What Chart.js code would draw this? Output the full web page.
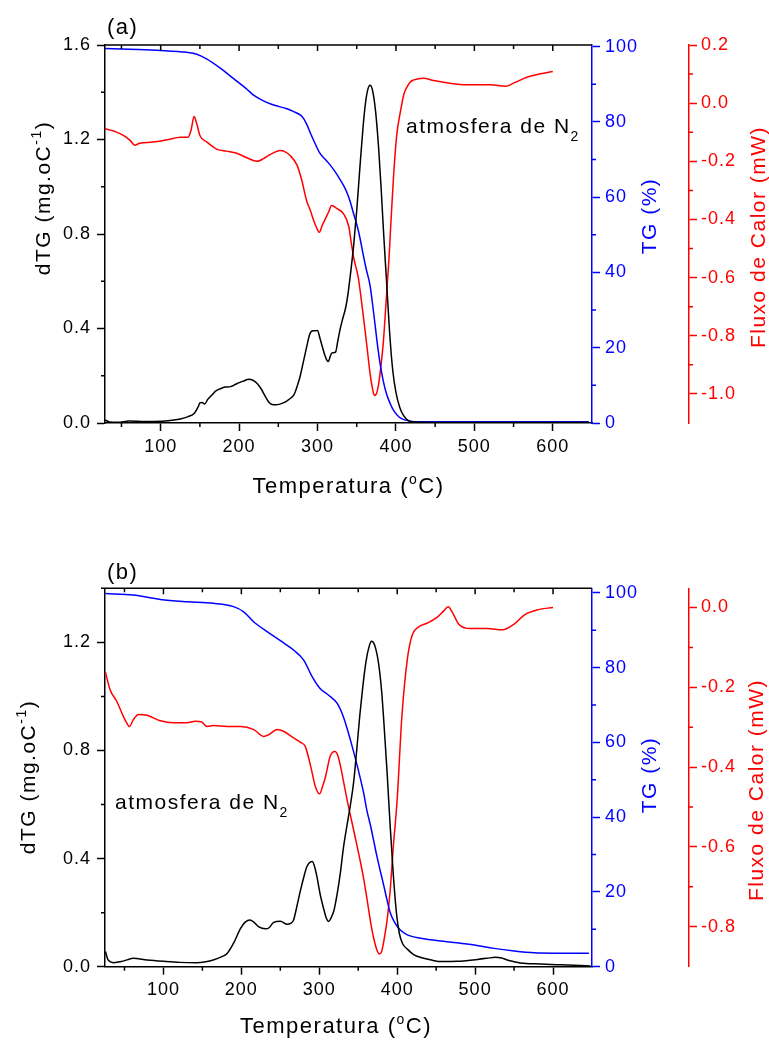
<!DOCTYPE html>
<html>
<head>
<meta charset="utf-8">
<script src="https://cdn.jsdelivr.net/npm/chart.js@4.4.0/dist/chart.umd.min.js"></script>
<style>
  html, body { margin: 0; padding: 0; background: #fff; }
  #wrap { position: relative; width: 769px; height: 1041px; }
  canvas { position: absolute; left: 0; }
  #chartA { top: 0; }
  #chartB { top: 520px; }
</style>
</head>
<body>
<div id="wrap">
  <canvas id="chartA" width="769" height="520"></canvas>
  <canvas id="chartB" width="769" height="521"></canvas>
</div>
<script>
// ---- panel (a) ----
const tempA_dtg = [29, 35, 45, 60, 80, 100, 115, 125, 135, 143, 148, 150, 153, 156, 160, 165, 170, 176, 182, 189, 195, 201, 206, 212, 217, 223, 228, 233, 238, 242, 247, 252, 257, 262, 266, 270, 274, 278, 282, 286, 290, 294, 297, 300, 303, 306, 309, 312, 314, 316, 318, 320, 323, 326, 329, 332, 336, 339, 342, 346, 350, 354, 358, 361, 364, 367, 370, 374, 378, 381, 384, 388, 392, 396, 400, 405, 410, 415, 420, 430, 450, 500, 550, 600, 646];
const dtgA = [0.013, 0.004, 0.003, 0.008, 0.006, 0.007, 0.012, 0.017, 0.027, 0.041, 0.07, 0.085, 0.087, 0.08, 0.1, 0.117, 0.135, 0.145, 0.152, 0.154, 0.163, 0.172, 0.178, 0.185, 0.182, 0.167, 0.145, 0.115, 0.088, 0.078, 0.077, 0.08, 0.086, 0.096, 0.106, 0.12, 0.155, 0.2, 0.26, 0.32, 0.375, 0.39, 0.39, 0.392, 0.36, 0.325, 0.29, 0.265, 0.26, 0.28, 0.295, 0.297, 0.3, 0.35, 0.4, 0.44, 0.49, 0.55, 0.63, 0.75, 0.9, 1.08, 1.25, 1.35, 1.41, 1.43, 1.41, 1.32, 1.16, 1.0, 0.82, 0.6, 0.38, 0.22, 0.13, 0.065, 0.03, 0.012, 0.005, 0.003, 0.002, 0.002, 0.002, 0.002, 0.002];

const tempA_tg = [29, 60, 100, 133, 146, 159, 176, 193, 210, 218, 231, 244, 261, 269, 280, 286, 291, 297, 303, 310, 316, 323, 329, 334, 338, 342, 346, 350, 354, 358, 362, 367, 372, 376, 380, 384, 388, 393, 398, 404, 410, 418, 430, 500, 646];
const tgA = [99.5, 99.3, 99.0, 98.5, 98.0, 96.7, 94.3, 91.5, 88.7, 87.2, 85.6, 84.5, 83.5, 82.8, 81.5, 79.5, 77.0, 74.2, 71.7, 70.0, 68.6, 66.6, 64.6, 62.8, 61.0, 58.6, 55.6, 52.8, 49.3, 45.0, 41.0, 36.5, 28.5, 21.5, 15.5, 11.0, 7.7, 5.0, 3.0, 1.6, 0.9, 0.5, 0.35, 0.3, 0.3];

const tempA_hf = [29, 40, 48, 55, 61, 67, 73, 90, 108, 125, 135, 139, 142.5, 146, 150, 159, 172, 184, 197, 210, 223, 231, 240, 248, 252, 257, 265, 274, 280, 286, 291, 295, 299, 302.5, 306, 310, 314, 318, 325, 333, 340, 343, 346, 352, 356, 361, 364, 367, 370, 372.5, 375, 378, 381, 384, 387, 391, 394, 397, 401, 406, 410, 414, 418, 423, 435, 448, 465, 491, 520, 540, 550, 567, 584, 600];
const hfA = [-0.088, -0.096, -0.105, -0.115, -0.128, -0.145, -0.138, -0.134, -0.126, -0.117, -0.117, -0.09, -0.046, -0.071, -0.111, -0.134, -0.159, -0.165, -0.172, -0.188, -0.2, -0.191, -0.176, -0.166, -0.163, -0.165, -0.18, -0.214, -0.266, -0.335, -0.37, -0.403, -0.43, -0.444, -0.42, -0.398, -0.375, -0.352, -0.363, -0.38, -0.426, -0.48, -0.53, -0.6, -0.68, -0.79, -0.86, -0.93, -0.98, -1.005, -1.0, -0.965, -0.9, -0.82, -0.7, -0.54, -0.39, -0.25, -0.11, -0.025, 0.03, 0.055, 0.072, 0.08, 0.086, 0.078, 0.07, 0.063, 0.063, 0.058, 0.069, 0.089, 0.101, 0.109];

// ---- panel (b) ----
const tempB_dtg = [25.6, 29, 36, 46, 55, 61, 79, 100, 121, 143, 164, 175, 182, 190, 199, 205, 211, 216, 222, 231, 236, 241, 250, 259, 263, 267, 271, 276, 280, 284, 291, 294, 297, 301, 306, 309, 312, 315, 319, 323, 327, 331, 336, 340, 344, 348, 352, 356, 360, 364, 367, 371, 376, 380, 383, 387, 391, 395, 399, 403, 407, 413, 421, 434, 445, 456, 477, 503, 515, 526, 534, 541, 558, 584, 610, 648];
const dtgB = [0.056, 0.025, 0.015, 0.019, 0.027, 0.031, 0.025, 0.02, 0.016, 0.015, 0.025, 0.037, 0.05, 0.087, 0.142, 0.165, 0.173, 0.165, 0.148, 0.14, 0.145, 0.163, 0.168, 0.157, 0.16, 0.173, 0.22, 0.284, 0.33, 0.37, 0.389, 0.37, 0.333, 0.27, 0.21, 0.18, 0.167, 0.18, 0.21, 0.27, 0.346, 0.44, 0.53, 0.6, 0.68, 0.8, 0.93, 1.04, 1.13, 1.185, 1.204, 1.19, 1.124, 1.02, 0.9, 0.72, 0.52, 0.34, 0.2, 0.12, 0.085, 0.065, 0.045, 0.031, 0.024, 0.019, 0.02, 0.027, 0.031, 0.035, 0.032, 0.025, 0.014, 0.01, 0.007, 0.003];

const tempB_tg = [25.6, 61, 96, 130, 164, 190, 203, 216, 233, 250, 267, 280, 291, 301, 312, 323, 331, 340, 349, 357, 361, 366, 370, 374, 379, 383, 387, 391, 397, 404, 413, 430, 464, 499, 524, 550, 576, 601, 646];
const tgB = [99.8, 99.4, 98.2, 97.6, 97.2, 96.3, 94.9, 92.2, 89.6, 87.2, 84.7, 82.0, 77.5, 74.4, 72.6, 70.4, 66.8, 60.6, 53.5, 46.4, 41.9, 37.5, 33.5, 29.5, 25.0, 21.5, 17.8, 14.5, 11.7, 9.8, 8.5, 7.6, 6.7, 5.8, 4.9, 4.2, 3.7, 3.6, 3.6];

const tempB_hf = [25.6, 31.5, 40, 48.6, 53, 56.3, 61.4, 68, 79, 96, 113, 130, 141, 149, 156, 164, 182, 199, 216, 228.5, 235, 246, 254, 267, 276, 282, 289, 295, 300.5, 304, 308, 314, 320, 324, 328, 332, 336, 341, 346, 352, 357, 362, 366, 370, 374, 377, 380, 383, 387, 391, 395, 400, 406, 413, 419, 428, 439, 451, 460, 465.5, 471, 479, 494, 516, 535, 550, 563, 580, 600];
const hfB = [-0.162, -0.206, -0.235, -0.273, -0.29, -0.298, -0.281, -0.268, -0.27, -0.284, -0.289, -0.289, -0.285, -0.287, -0.298, -0.296, -0.298, -0.298, -0.306, -0.323, -0.319, -0.306, -0.31, -0.327, -0.338, -0.348, -0.398, -0.449, -0.467, -0.45, -0.424, -0.373, -0.361, -0.372, -0.405, -0.445, -0.485, -0.53, -0.575, -0.63, -0.68, -0.74, -0.79, -0.83, -0.858, -0.868, -0.862, -0.834, -0.784, -0.709, -0.6, -0.48, -0.273, -0.13, -0.071, -0.048, -0.039, -0.025, -0.008, 0.002, -0.013, -0.042, -0.053, -0.053, -0.056, -0.042, -0.019, -0.006, 0.0];

// ---- ticks ----
const xMajor = [100, 200, 300, 400, 500, 600];
const xMinor = [50, 150, 250, 350, 450, 550];
const dtgMajorA = [0, 0.4, 0.8, 1.2, 1.6];
const dtgMajorB = [0, 0.4, 0.8, 1.2];
const dtgMinor = [0.2, 0.6, 1.0, 1.4];
const tgMajor = [0, 20, 40, 60, 80, 100];
const tgMinor = [10, 30, 50, 70, 90];
const hfMajorA = [-1.0, -0.8, -0.6, -0.4, -0.2, 0.0, 0.2];
const hfMinorA = [-0.9, -0.7, -0.5, -0.3, -0.1, 0.1];
const hfMajorB = [-0.8, -0.6, -0.4, -0.2, 0.0];
const hfMinorB = [-0.7, -0.5, -0.3, -0.1];

const FONT = '"Liberation Sans", Arial, sans-serif';
Chart.defaults.font.family = FONT;
Chart.defaults.font.size = 18;

function pts(xs, ys) { return xs.map((x, i) => ({x: x, y: ys[i]})); }

function scale(o) {
  const all = o.major.concat(o.minor).sort((a, b) => a - b);
  return {
    type: 'linear',
    position: o.position,
    min: o.min,
    max: o.max,
    afterBuildTicks: s => { s.ticks = all.map(v => ({value: v})); },
    afterFit: s => { if (o.position === 'bottom') s.height = o.size; else s.width = o.size; },
    border: {color: o.color, width: 1.5},
    grid: {
      drawOnChartArea: false,
      tickLength: 8,
      tickWidth: 1.5,
      tickColor: c => (c.tick && o.major.includes(c.tick.value)) ? o.color : 'rgba(0,0,0,0)'
    },
    ticks: {
      color: o.color,
      padding: o.pad,
      autoSkip: false,
      maxRotation: 0,
      font: {size: 18},
      callback: v => o.major.includes(v) ? o.fmt(v) : ''
    }
  };
}

function drawRich(ctx, t) {
  const base = t.size || 22;
  ctx.save();
  ctx.translate(t.x, t.y);
  if (t.rot) ctx.rotate(t.rot * Math.PI / 180);
  ctx.fillStyle = t.color || '#000';
  ctx.textBaseline = 'alphabetic';
  ctx.textAlign = 'left';
  ctx.letterSpacing = '1.5px';
  const segs = t.parts.map(([s, kind]) => {
    const size = kind ? Math.round(base * 0.65) : base;
    ctx.font = size + 'px ' + FONT;
    return {s, kind, size, w: ctx.measureText(s).width};
  });
  const total = segs.reduce((a, g) => a + g.w, 0);
  let cx = t.align === 'left' ? 0 : -total / 2;
  segs.forEach(g => {
    ctx.font = g.size + 'px ' + FONT;
    const dy = g.kind === 'sup' ? -base * 0.42 : g.kind === 'sub' ? base * 0.38 : 0;
    ctx.fillText(g.s, cx, dy);
    cx += g.w;
  });
  ctx.restore();
}

// top frame, minor ticks and the free texts
const decor = {
  id: 'decor',
  beforeDraw(chart) { chart.ctx.letterSpacing = '1px'; },
  afterDraw(chart, args, opts) {
    const ctx = chart.ctx, a = chart.chartArea, xs = chart.scales.x;
    ctx.save();
    ctx.lineWidth = 1.5;
    ctx.strokeStyle = '#000';
    ctx.beginPath();
    ctx.moveTo(a.left, a.top);
    ctx.lineTo(a.right, a.top);
    xs.ticks.forEach(t => {
      const px = xs.getPixelForValue(t.value);
      ctx.moveTo(px, a.top);
      ctx.lineTo(px, a.top + (t.label ? 6 : 4));
    });
    ctx.stroke();
    Object.values(chart.scales).forEach(s => {
      ctx.strokeStyle = s.options.border.color;
      ctx.beginPath();
      s.ticks.forEach(t => {
        if (t.label !== '') return;
        const p = s.getPixelForValue(t.value);
        if (s.position === 'bottom') { ctx.moveTo(p, s.top); ctx.lineTo(p, s.top + 4); }
        else if (s.position === 'left') { ctx.moveTo(s.right, p); ctx.lineTo(s.right - 4, p); }
        else { ctx.moveTo(s.left, p); ctx.lineTo(s.left + 4, p); }
      });
      ctx.stroke();
    });
    ctx.restore();
    opts.texts.forEach(t => drawRich(ctx, t));
  }
};

function makeChart(id, p) {
  const line = (label, data, color, axis) => ({
    label, data, yAxisID: axis, borderColor: color, borderWidth: 1.5,
    pointRadius: 0, fill: false, cubicInterpolationMode: 'monotone'
  });
  return new Chart(document.getElementById(id), {
    type: 'line',
    data: {
      datasets: [
        line('dTG', p.dtg, '#000000', 'y'),
        line('TG', p.tg, '#0000ff', 'tg'),
        line('Fluxo de Calor', p.hf, '#ff0000', 'hf')
      ]
    },
    options: {
      responsive: false,
      animation: false,
      layout: {padding: {top: p.top, left: 0, right: 0, bottom: 0}},
      plugins: {legend: {display: false}, tooltip: {enabled: false}, decor: {texts: p.texts}},
      scales: {
        x: scale({position: 'bottom', min: p.xmin, max: 650, major: xMajor, minor: xMinor,
                  color: '#000', pad: 5, size: p.xh, fmt: v => String(v)}),
        y: scale({position: 'left', min: 0, max: p.dtgMax, major: p.dtgMajor, minor: dtgMinor,
                  color: '#000', pad: 6, size: 105, fmt: v => v.toFixed(1)}),
        tg: scale({position: 'right', min: 0, max: p.tgMax, major: tgMajor, minor: tgMinor,
                   color: '#0000ff', pad: 5, size: 97, fmt: v => String(v)}),
        hf: scale({position: 'right', min: p.hfMin, max: p.hfMax, major: p.hfMajor, minor: p.hfMinor,
                   color: '#ff0000', pad: 4, size: 80, fmt: v => (Math.abs(v) < 1e-9 ? 0 : v).toFixed(1)})
      }
    },
    plugins: [decor]
  });
}

makeChart('chartA', {
  dtg: pts(tempA_dtg, dtgA), tg: pts(tempA_tg, tgA), hf: pts(tempA_hf, hfA),
  top: 45, xh: 97, xmin: 29, dtgMax: 1.6, dtgMajor: dtgMajorA, tgMax: 100.45,
  hfMin: -1.1, hfMax: 0.2, hfMajor: hfMajorA, hfMinor: hfMinorA,
  texts: [
    {parts: [['(a)']], x: 107, y: 34, align: 'left'},
    {parts: [['atmosfera de N'], ['2', 'sub']], x: 406, y: 133, size: 21, align: 'left'},
    {parts: [['Temperatura ('], ['o', 'sup'], ['C)']], x: 348.5, y: 493},
    {parts: [['dTG (mg.oC'], ['-1', 'sup'], [')']], x: 50, y: 198, size: 21, rot: -90},
    {parts: [['TG (%)']], x: 656, y: 216, size: 21, rot: -90, color: '#0000ff'},
    {parts: [['Fluxo de Calor (mW)']], x: 765, y: 237, size: 21, rot: -90, color: '#ff0000'}
  ]
});

makeChart('chartB', {
  dtg: pts(tempB_dtg, dtgB), tg: pts(tempB_tg, tgB), hf: pts(tempB_hf, hfB),
  top: 68.3, xh: 74.3, xmin: 25, dtgMax: 1.4, dtgMajor: dtgMajorB, tgMax: 101.2,
  hfMin: -0.9, hfMax: 0.048, hfMajor: hfMajorB, hfMinor: hfMinorB,
  texts: [
    {parts: [['(b)']], x: 107, y: 59, align: 'left'},
    {parts: [['atmosfera de N'], ['2', 'sub']], x: 115, y: 289.3, size: 21, align: 'left'},
    {parts: [['Temperatura ('], ['o', 'sup'], ['C)']], x: 336, y: 513},
    {parts: [['dTG (mg.oC'], ['-1', 'sup'], [')']], x: 35, y: 257, size: 21, rot: -90},
    {parts: [['TG (%)']], x: 656, y: 255, size: 21, rot: -90, color: '#0000ff'},
    {parts: [['Fluxo de Calor (mW)']], x: 763, y: 270, size: 21, rot: -90, color: '#ff0000'}
  ]
});
</script>
</body>
</html>
